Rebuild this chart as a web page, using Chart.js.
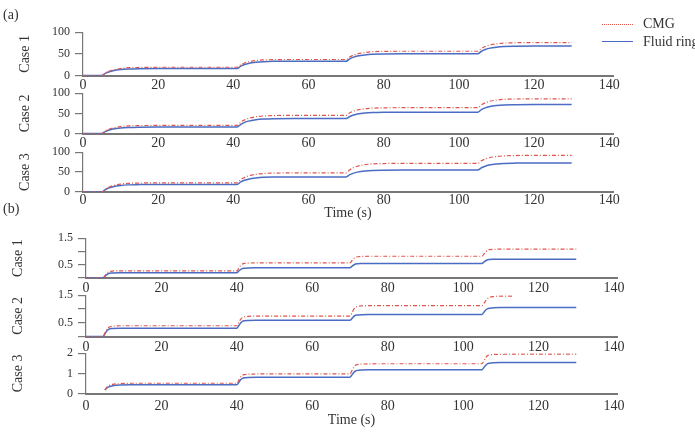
<!DOCTYPE html>
<html><head><meta charset="utf-8">
<script src="https://cdn.jsdelivr.net/npm/chart.js@4.4.0/dist/chart.umd.min.js"></script>
<style>
html,body{margin:0;padding:0;background:#fff;overflow:hidden;width:695px;height:434px;}
#wrap{position:relative;width:695px;height:434px;overflow:hidden;}
canvas{position:absolute;left:0;}
.lbl{position:absolute;font-family:'Liberation Serif','DejaVu Serif',serif;color:#333;font-size:14px;white-space:nowrap;line-height:14px;}
.lg{position:absolute;height:0;}
</style></head><body>
<div id="wrap">
<canvas id="a1"></canvas><canvas id="a2"></canvas><canvas id="a3"></canvas>
<canvas id="b1"></canvas><canvas id="b2"></canvas><canvas id="b3"></canvas>
<div class="lbl" style="left:3px;top:8px">(a)</div>
<div class="lbl" style="left:3px;top:202px">(b)</div>
<div class="lg" style="left:602px;top:24px;width:31px;border-top:1px dotted #e0564d"></div>
<div class="lg" style="left:602px;top:41px;width:31px;border-top:1.5px solid #4a6cc3"></div>
<div class="lbl" style="left:643px;top:17px">CMG</div>
<div class="lbl" style="left:643px;top:35px">Fluid ring</div>
</div>
<script>
// ---- data ----
const timeA = [0,5,6,7,8,10,12,15,20, 41,42,43,44,46,48,51,56, 70,71,72,73,75,77,80,85, 105,106,107,108,110,112,115,120,130];
const a1CMG   = [0,0,6,10,13,16,18,18.6,19, 19,25,29,31.5,34.5,36,36.6,37, 37,43,47.5,50,53,55,55.6,56, 56,62.5,67,70,73,74.8,75.6,76,76];
const a1Fluid = [0,0,5.3,8.8,11.2,13.8,15,15.7,16, 16,21.6,25.4,27.9,30.6,32,32.7,33, 33,38.6,42.4,44.9,47.6,49,49.7,50, 50,56,60,62.6,65.5,66.9,67.6,68,68];
const a2CMG   = [0,0,6.6,11,14,17.2,18.8,19.6,20, 20,28.3,33.8,37.5,41.5,43.5,44.5,45, 45,51.3,55.5,58.3,61.3,62.9,63.6,64, 64,71.3,76.1,79.4,82.9,84.7,85.6,86,86];
const a2Fluid = [0,0,5.3,8.8,11.2,13.8,15,15.7,16, 16,22.9,27.6,30.7,34.1,35.7,36.6,37, 37,42.3,45.8,48.2,50.8,52,52.7,53, 53,59.3,63.5,66.3,69.3,70.9,71.6,72,72];
const a3CMG   = [0,0,7.6,12.7,16.1,19.8,21.6,22.5,23, 23,31.3,36.8,40.5,44.5,46.5,47.5,48, 48,55.9,61.2,64.8,68.6,70.6,71.5,72, 72,78.6,83,86,89.2,90.8,91.6,92,92];
const a3Fluid = [0,0,6.3,10.5,13.3,16.3,17.9,18.6,19, 19,25.3,29.5,32.3,35.3,36.9,37.6,38, 38,43.6,47.4,49.9,52.6,54,54.7,55, 55,60.9,64.9,67.6,70.5,71.9,72.6,73,73];

const timeB = [0,4.5,5,5.5,6,7,9,12, 40,40.5,41,41.5,42,43,45,48, 70,70.5,71,71.5,72,73,75,78, 105,105.5,106,106.5,107,108,110,113,130];
const b1CMG   = [0,0,0.08,0.18,0.23,0.26,0.27,0.27, 0.27,0.36,0.47,0.53,0.55,0.56,0.57,0.57, 0.57,0.65,0.73,0.78,0.80,0.81,0.82,0.82, 0.82,0.90,0.98,1.05,1.07,1.08,1.09,1.09,1.09];
const b1Fluid = [0,0,0.06,0.13,0.17,0.19,0.2,0.2, 0.2,0.26,0.32,0.36,0.37,0.38,0.39,0.39, 0.39,0.44,0.49,0.53,0.54,0.545,0.55,0.55, 0.55,0.6,0.65,0.69,0.70,0.705,0.71,0.71,0.71];
const b2CMG   = [0,0,0.12,0.25,0.33,0.37,0.39,0.39, 0.39,0.5,0.62,0.69,0.71,0.73,0.74,0.74, 0.74,0.85,0.99,1.06,1.09,1.11,1.12,1.12, 1.12,1.2,1.3,1.38,1.42,1.45,1.47,1.47,null];
const b2Fluid = [0,0,0.09,0.2,0.26,0.29,0.3,0.3, 0.3,0.39,0.49,0.55,0.57,0.58,0.59,0.59, 0.59,0.65,0.73,0.77,0.78,0.79,0.8,0.8, 0.8,0.88,0.96,1.01,1.03,1.04,1.05,1.05,1.05];
const b3CMG   = [null,null,0.18,0.3,0.38,0.45,0.49,0.51, 0.51,0.65,0.82,0.91,0.94,0.96,0.97,0.98, 0.98,1.13,1.31,1.41,1.44,1.46,1.475,1.48, 1.48,1.62,1.79,1.89,1.92,1.94,1.95,1.96,1.96];
const b3Fluid = [null,null,0.18,0.27,0.33,0.38,0.42,0.43, 0.43,0.54,0.68,0.75,0.78,0.8,0.81,0.81, 0.81,0.92,1.05,1.12,1.15,1.17,1.18,1.18, 1.18,1.29,1.41,1.49,1.51,1.53,1.54,1.54,1.54];

const xTicks = [0,20,40,60,80,100,120,140];
const yTicksA = [0,50,100];
const yTicksB12 = [0,0.5,1,1.5];
const yLabelsB12 = [0.5,1.5];
const yTicksB3 = [0,1,2];
const caseLabels = ['Case 1','Case 2','Case 3'];
const seriesNames = ['CMG','Fluid ring'];
const xTitle = 'Time (s)';

// ---- drawing ----
const FONT = "'Liberation Serif','DejaVu Serif',serif";
const COL_CMG = '#e0564d', COL_FR = '#4a6cc3', AX = '#777', TXT = '#333';
const W = 640;

function panel(id, c) {
  const cv = document.getElementById(id);
  const top = Math.round(c.ct) - 12;
  const padTop = c.ct - top;
  const H = Math.ceil(c.cb - top + c.xh);
  const padBot = H - (c.cb - top) - c.xh;
  cv.width = W; cv.height = H;
  cv.style.top = top + 'px'; cv.style.width = W + 'px'; cv.style.height = H + 'px';
  const mk = (arr) => c.t.map((x, i) => ({x: x, y: arr[i]}));
  new Chart(cv, {
    type: 'line',
    data: {datasets: [
      {label: seriesNames[0], data: mk(c.cmg), borderColor: COL_CMG, borderWidth: 1.2, borderDash: [4,2,1,2],
       pointRadius: 0, cubicInterpolationMode: 'monotone', spanGaps: false, fill: false},
      {label: seriesNames[1], data: mk(c.fr), borderColor: COL_FR, borderWidth: 1.5,
       pointRadius: 0, cubicInterpolationMode: 'monotone', spanGaps: false, fill: false}
    ]},
    options: {
      responsive: false, animation: false, devicePixelRatio: 1,
      layout: {padding: {top: padTop, left: c.padL, right: W - c.cr, bottom: padBot}},
      plugins: {legend: {display: false}, tooltip: {enabled: false}},
      scales: {
        x: {type: 'linear', min: 0, max: c.xmax,
          afterBuildTicks: ax => { ax.ticks = xTicks.map(v => ({value: v})); },
          afterFit: ax => { ax.height = c.xh; },
          grid: {display: false, drawTicks: false},
          border: {display: true, color: AX, width: 2},
          ticks: {padding: c.xpad, color: TXT, font: {family: FONT, size: 14}, maxRotation: 0, autoSkip: false},
          title: c.xtitle ? {display: true, text: xTitle, color: TXT, font: {family: FONT, size: 14}, padding: 0} : {display: false}
        },
        y: {type: 'linear', min: 0, max: c.ymax,
          afterBuildTicks: ax => { ax.ticks = c.yt.map(v => ({value: v})); },
          afterFit: ax => { ax.width = c.cl - c.padL; },
          grid: {drawOnChartArea: false, drawTicks: true, tickLength: 8, color: AX, lineWidth: 1.2},
          border: {display: true, color: AX, width: 1.2},
          ticks: {padding: 5, color: TXT, font: {family: FONT, size: 12}, autoSkip: false,
            callback: v => (c.yl ? (c.yl.includes(v) ? String(v) : '') : String(v))},
          title: {display: true, text: c.title, color: TXT, font: {family: FONT, size: 14}, padding: 0}
        }
      }
    }
  });
}

const A = {t: timeA, cl: 83, cr: 613, xmax: 141, padL: 16.6, ymax: 100, yt: yTicksA};
const B = {t: timeB, cl: 86, cr: 617, xmax: 140.8, padL: 9.6};
panel('a1', Object.assign({}, A, {ct: 32, cb: 75.5, xh: 22, xpad: 1, cmg: a1CMG, fr: a1Fluid, title: caseLabels[0]}));
panel('a2', Object.assign({}, A, {ct: 93, cb: 133.5, xh: 22, xpad: 1, cmg: a2CMG, fr: a2Fluid, title: caseLabels[1]}));
panel('a3', Object.assign({}, A, {ct: 152, cb: 192, xh: 30, xpad: 0, cmg: a3CMG, fr: a3Fluid, title: caseLabels[2], xtitle: true}));
panel('b1', Object.assign({}, B, {ct: 238, cb: 278, xh: 22, xpad: 2, ymax: 1.5, yt: yTicksB12, yl: yLabelsB12, cmg: b1CMG, fr: b1Fluid, title: caseLabels[0]}));
panel('b2', Object.assign({}, B, {ct: 294.5, cb: 336.5, xh: 22, xpad: 2, ymax: 1.5, yt: yTicksB12, yl: yLabelsB12, cmg: b2CMG, fr: b2Fluid, title: caseLabels[1]}));
panel('b3', Object.assign({}, B, {ct: 353.3, cb: 393.5, xh: 35, xpad: 4, ymax: 2, yt: yTicksB3, cmg: b3CMG, fr: b3Fluid, title: caseLabels[2], xtitle: true}));
</script>
</body></html>
